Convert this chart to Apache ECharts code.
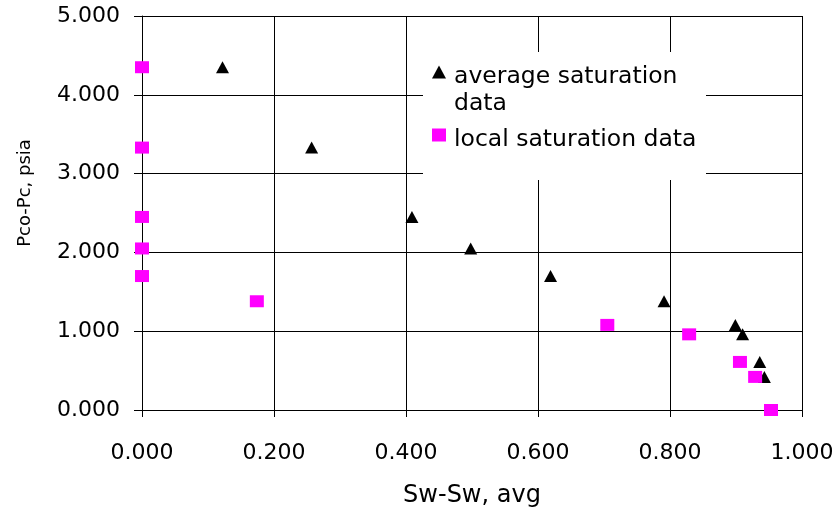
<!DOCTYPE html>
<html>
<head>
<meta charset="utf-8">
<script src="https://cdn.jsdelivr.net/npm/echarts@6/dist/echarts.min.js"></script>
<style>
html,body{margin:0;padding:0;background:#fff;}
#chart{width:839px;height:513px;}
</style>
</head>
<body>
<div id="chart"></div>
<script>
// ---- data ----
var avgX = [0.122, 0.257, 0.409, 0.498, 0.619, 0.791, 0.899, 0.910, 0.936, 0.943];
var avgY = [4.35, 3.33, 2.45, 2.05, 1.70, 1.38, 1.08, 0.96, 0.61, 0.42];
var localX = [0, 0, 0, 0, 0, 0.174, 0.705, 0.829, 0.906, 0.929, 0.953];
var localY = [4.35, 3.33, 2.45, 2.05, 1.70, 1.38, 1.08, 0.96, 0.61, 0.42, 0];
var seriesNames = ['average saturation data', 'local saturation data'];
var legendLines = [['average saturation', 'data'], ['local saturation data']];
var xTitle = 'Sw-Sw, avg';
var yTitle = 'Pco-Pc, psia';

function pairs(xs, ys) {
  return xs.map(function (x, i) { return [x, ys[i]]; });
}

var FONT = 'DejaVu Sans';
var LFS = 23.5;
var chart = echarts.init(document.getElementById('chart'), null, {renderer: 'canvas'});
chart.setOption({
  animation: false,
  backgroundColor: '#fff',
  grid: {left: 142, top: 16, right: 37, bottom: 101.5, containLabel: false},
  xAxis: {
    type: 'value', min: 0, max: 1, interval: 0.2,
    name: xTitle, nameLocation: 'middle', nameGap: 74,
    nameTextStyle: {fontFamily: FONT, fontSize: 24, color: '#000'},
    axisLine: {show: true, lineStyle: {color: '#000', width: 1}},
    axisTick: {show: true, inside: false, length: 7, lineStyle: {color: '#000'}},
    axisLabel: {fontFamily: FONT, fontSize: 22, color: '#000', margin: 32,
      formatter: function (v) { return v.toFixed(3); }},
    splitLine: {show: true, lineStyle: {color: '#000', width: 1}}
  },
  yAxis: {
    type: 'value', min: 0, max: 5, interval: 1,
    name: yTitle, nameLocation: 'middle', nameGap: 108, nameRotate: 90,
    nameTextStyle: {fontFamily: FONT, fontSize: 18, color: '#000', padding: [0, 0, 0, 40]},
    axisLine: {show: true, lineStyle: {color: '#000', width: 1}},
    axisTick: {show: true, inside: false, length: 8, lineStyle: {color: '#000'}},
    axisLabel: {fontFamily: FONT, fontSize: 22, color: '#000', margin: 22,
      formatter: function (v) { return v.toFixed(3); }},
    splitLine: {show: true, lineStyle: {color: '#000', width: 1}}
  },
  graphic: [{
    type: 'rect', z: 1, silent: true,
    shape: {x: 423, y: 52, width: 283, height: 128},
    style: {fill: '#fff'}
  }],
  legend: {
    orient: 'vertical', left: 432, top: 33, padding: 0, itemGap: -6,
    itemWidth: 14, itemHeight: 13, z: 5,
    textStyle: {
      fontFamily: FONT, fontSize: LFS, color: '#000', padding: [0, 0, 0, 3],
      rich: {
        s36: {fontFamily: FONT, fontSize: LFS, lineHeight: 36},
        s10: {fontFamily: FONT, fontSize: LFS, lineHeight: 10},
        t: {fontFamily: FONT, fontSize: LFS, color: '#000', lineHeight: 27}
      }
    },
    formatter: function (name) {
      var idx = seriesNames.indexOf(name);
      var lines = legendLines[idx].map(function (l) { return '{t|' + l + '}'; });
      var spacer = idx === 0 ? '{s36| }' : '{s10| }';
      return spacer + '\n' + lines.join('\n');
    },
    data: [
      {name: seriesNames[0], icon: 'triangle'},
      {name: seriesNames[1], icon: 'rect'}
    ]
  },
  series: [
    {
      name: seriesNames[0], type: 'scatter', symbol: 'triangle', symbolSize: [13, 12],
      itemStyle: {color: '#000', opacity: 1}, z: 3,
      data: pairs(avgX, avgY)
    },
    {
      name: seriesNames[1], type: 'scatter', symbol: 'rect', symbolSize: [14, 12],
      itemStyle: {color: '#FF00FF', opacity: 1}, z: 4,
      data: pairs(localX, localY)
    }
  ]
});
</script>
</body>
</html>
